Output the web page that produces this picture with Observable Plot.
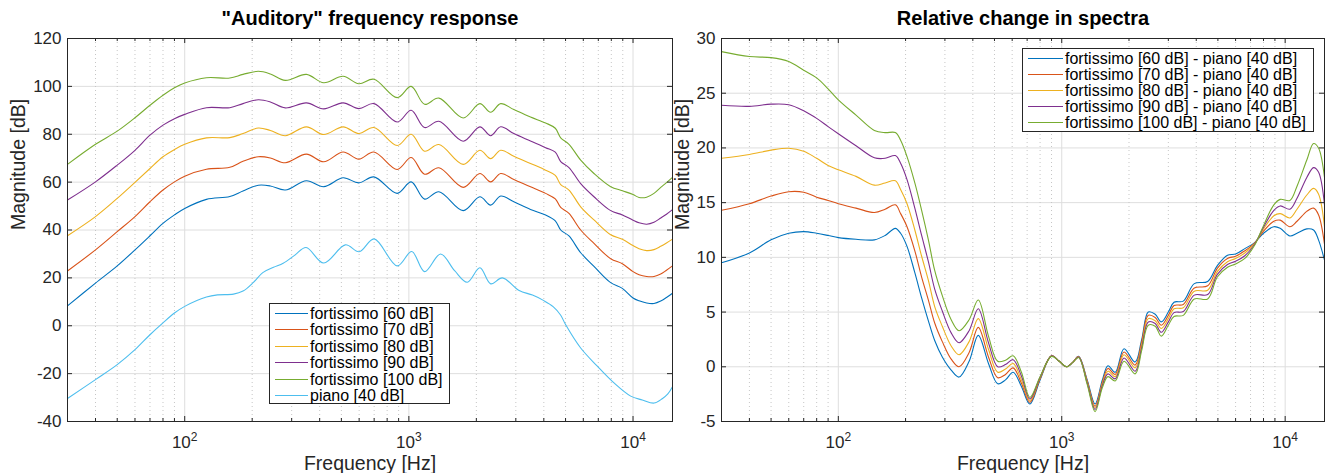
<!DOCTYPE html>
<html>
<head>
<meta charset="utf-8">
<script src="https://cdn.jsdelivr.net/npm/d3@7"></script>
<script src="https://cdn.jsdelivr.net/npm/@observablehq/plot@0.6"></script>
<style>
  body { margin: 0; background: #fff; font-family: "Liberation Sans", Arial, sans-serif; }
  #wrap { position: relative; width: 1328px; height: 473px; overflow: hidden; background: #fff; }
  .panel { position: absolute; top: 0; }
  .legend { position: absolute; background: #fff; border: 1px solid #262626; box-sizing: border-box; color: #000; }
  .legend .row { position: absolute; left: 0; height: 18px; width: 100%; }
  .legend .sw { position: absolute; top: 8px; height: 0; border-top: 1.3px solid; }
  .legend .tx { position: absolute; top: 0; line-height: 18px; white-space: nowrap; }
</style>
</head>
<body>
<div id="wrap"></div>
<script>
// ---------------- data ----------------
// Left panel: "Auditory" frequency response (dB) for fortissimo levels
const freqL = [30,40,50,60,70,80,90,100,125,159,182,213,241,281,349,417,509,598,698,887,1024,1175,1361,1748,2074,2316,2568,2939,3488,4075,4500,4757,5179,5841,6696,7948,8960,10000,10637,11500,12400,13290,14100,15000];
const ff60  = [8.3,17.8,25,31.7,37.6,42.8,46.3,49,52.8,54,56.3,58.7,58.4,56.7,60.6,58.1,61.8,59.7,62.2,55.3,60.1,52.9,56,48.1,53.9,50.4,54.2,51.8,48.6,46.25,43.8,40,37.5,30.5,24.8,18,15.6,11.6,10.4,9.5,9.3,10.3,11.8,13.6];
const ff70  = [22.9,31.7,39.3,45.6,51.8,56.7,60.1,62.5,65.4,66.2,68.7,70.6,70.1,68.1,71.7,68.5,72.6,69.6,72.6,65.3,70.3,63.3,66,57.8,63.6,60.1,63.6,61.1,58.1,55.3,53,49.4,46.9,40,34.4,28,25.9,22.6,21.3,20.6,20.6,21.6,23.2,25];
const ff80  = [37.6,45.6,53.2,59.9,65.7,70.6,73.6,75.8,78.5,78.6,80.3,82.6,81.6,79.4,83.1,79.9,83.1,80.3,82.8,75.3,80,72.9,75.7,67.4,73.3,69.8,73.3,70.8,67.8,65,62.8,59,56.7,49.7,44.2,38,36.1,33.5,32.2,31.4,31.8,33.2,34.6,36.2];
const ff90  = [52.5,60.1,67.1,73.3,79.6,83.8,86.5,88.3,91.1,91.1,92.8,94.4,93.5,91,93.1,90.6,93.1,90.7,92.8,85.1,90,82.8,85.4,77.1,83.1,79.4,83.1,80.3,77.2,74.4,72.5,68.6,66.1,59.4,53.9,48.1,46.3,44.1,43,42.4,43.2,45,46.6,48.5];
const ff100 = [67.4,75.8,81.3,86.9,92.1,96.3,99.4,101.4,103.6,103.5,105,106.3,105.2,102.5,105,101.5,104.2,101.1,103,95.3,100,92.5,95.1,86.8,92.8,89.2,92.8,90.3,87.2,84.7,82.5,78.5,75.8,69.2,63.6,58.1,56.4,54.8,53.6,53.7,55.3,57.8,59.8,62];
const freqP = [30,40,50,60,70,80,90,100,125,140,165,182,202,223,249,275,310,348,417,521,600,700,887,1030,1175,1385,1600,1822,2074,2318,2614,3105,3560,4000,4400,4750,5000,5841,6929,8226,9763,11000,12410,13500,14300,15000];
const piano = [-30.4,-22.5,-16.25,-10,-3.75,1.2,5.3,8.1,12,12.9,13.2,14.5,18,22.2,24.4,26.1,29.5,32.7,26.2,33.8,30.9,36.3,25,31,22.6,30,23,18.2,24.2,17.5,20,14.7,12.8,10.5,8,4.5,0.5,-9.3,-16.9,-23.9,-29.4,-31,-32.3,-30.5,-28.5,-25.5];

// Right panel: relative change in spectra (dB)
const freqR = [30,40,50,60,70,80,90,100,120,145,162,180,190,203,220,236,253,270,292,320,347,385,423,470,517,560,606,660,720,800,900,975,1050,1120,1190,1300,1410,1520,1610,1735,1900,2130,2280,2440,2620,2790,3000,3180,3500,3920,4500,4970,5520,6000,6600,7300,8000,8900,9500,10500,11300,12500,13400,14100,15000];
const d60  = [9.5,10.4,11.6,12.2,12.35,12.2,12.0,11.8,11.65,11.6,12.0,12.65,12.2,11.0,8.6,6.3,4.2,2.4,0.9,-0.3,-0.94,0.5,2.87,0.3,-1.55,-1.2,-0.5,-1.8,-3.4,-1.2,1.0,0.5,0.0,0.4,0.95,-1.2,-3.4,-1.2,0.1,-0.5,1.65,0.43,2.5,5.0,4.8,4.1,5.0,5.9,6.0,7.6,7.8,9.25,10.2,10.3,10.8,11.35,12.2,12.8,12.65,11.95,12.2,12.6,12.5,11.6,9.75];
const d70  = [14.3,14.9,15.6,16.0,15.95,15.5,15.2,14.9,14.5,14.1,14.4,14.8,14.0,12.8,10.6,8.2,6.1,4.0,2.3,0.7,0.0,1.3,3.6,0.9,-1.0,-0.7,-0.1,-1.5,-3.25,-1.1,1.0,0.5,0.0,0.4,0.93,-1.3,-3.6,-1.4,-0.15,-0.7,1.35,0.15,2.3,4.7,4.5,3.8,4.7,5.6,5.7,7.2,7.4,9.0,9.9,10.1,10.6,11.3,12.4,13.3,13.4,12.8,13.3,14.2,14.5,13.9,11.2];
const d80  = [19.05,19.4,19.8,19.97,19.7,19.05,18.4,18.0,17.4,16.6,16.8,17.0,16.2,14.9,12.5,10.1,7.9,5.5,3.7,1.9,1.1,2.3,4.4,1.6,-0.5,-0.2,0.3,-1.2,-3.1,-1.0,1.0,0.5,0.0,0.4,0.9,-1.4,-3.75,-1.55,-0.4,-0.9,1.1,-0.1,2.0,4.4,4.2,3.5,4.4,5.3,5.4,6.9,7.0,8.7,9.6,9.9,10.4,11.25,12.6,13.8,14.0,13.6,14.4,15.7,16.3,15.8,12.8];
const d90  = [23.9,23.8,24.0,23.95,23.4,22.7,21.95,21.3,20.2,19.1,19.05,19.3,18.6,17.1,14.5,12.0,9.6,7.1,5.1,3.1,2.2,3.3,5.3,2.2,0.0,0.2,0.65,-0.85,-2.95,-0.95,1.0,0.5,0.0,0.4,0.88,-1.5,-3.9,-1.7,-0.65,-1.1,0.8,-0.4,1.75,4.1,3.95,3.15,4.1,4.95,5.05,6.55,6.6,8.45,9.35,9.65,10.15,11.2,12.75,14.3,14.7,14.4,15.4,17.3,18.2,17.8,14.8];
const d100 = [28.8,28.35,28.25,27.9,27.1,26.4,25.4,24.4,23.0,21.6,21.4,21.4,20.7,19.2,16.8,14.3,11.6,8.8,6.5,4.3,3.3,4.3,6.1,2.8,0.5,0.6,1.0,-0.5,-2.8,-0.9,0.95,0.5,0.0,0.4,0.85,-1.6,-4.1,-1.9,-0.9,-1.3,0.5,-0.65,1.5,3.8,3.7,2.8,3.8,4.6,4.7,6.2,6.2,8.2,9.1,9.4,9.9,11.1,12.9,14.8,15.3,15.2,16.5,18.9,20.4,20.0,17.3];

const namesL = ["fortissimo [60 dB]","fortissimo [70 dB]","fortissimo [80 dB]","fortissimo [90 dB]","fortissimo [100 dB]","piano [40 dB]"];
const namesR = ["fortissimo [60 dB] - piano [40 dB]","fortissimo [70 dB] - piano [40 dB]","fortissimo [80 dB] - piano [40 dB]","fortissimo [90 dB] - piano [40 dB]","fortissimo [100 dB] - piano [40 dB]"];
const colors = ["#0072BD","#D95319","#EDB120","#7E2F8E","#77AC30","#4DBEEE"];

const xMajor = [100, 1000, 10000];
const xMajorExp = ["2", "3", "4"];
const xMinor = [40,50,60,70,80,90,200,300,400,500,600,700,800,900,2000,3000,4000,5000,6000,7000,8000,9000];
const yTicksL = [-40,-20,0,20,40,60,80,100,120];
const yTicksR = [-5,0,5,10,15,20,25,30];

// ---------------- drawing ----------------
const FONT = "'Liberation Sans', Arial, Helvetica, sans-serif";
const AX = "#262626";
const H = 473, MT = 38, MB = 52;

function toRows(freqs, vals) { return freqs.map((f, i) => ({f, v: vals[i]})); }

function panel({width, marginLeft, marginRight, yDomain, yTicks, series, title, ylabDx}) {
  const fh = H - MT - MB;
  const fw = width - marginLeft - marginRight;
  const lines = series.map(s => Plot.line(toRows(s.f, s.v), {x: "f", y: "v", stroke: s.color, strokeWidth: 1.1, curve: "catmull-rom"}));
  return Plot.plot({
    width, height: H, marginLeft, marginRight, marginTop: MT, marginBottom: MB,
    style: {fontFamily: FONT, fontSize: "17px", color: AX, background: "none", overflow: "visible"},
    x: {type: "log", domain: [30, 15000], axis: null},
    y: {domain: yDomain, axis: null},
    marks: [
      Plot.ruleY(yTicks, {stroke: "#dedede", strokeWidth: 1}),
      Plot.ruleX(xMinor, {stroke: "#c6c6c6", strokeWidth: 1, strokeDasharray: "1,3"}),
      Plot.ruleX(xMajor, {stroke: "#dedede", strokeWidth: 1}),
      ...lines,
      Plot.frame({stroke: AX, strokeWidth: 1}),
      Plot.ruleX(xMajor, {insetTop: fh - 5, stroke: AX}),
      Plot.ruleX(xMajor, {insetBottom: fh - 5, stroke: AX}),
      Plot.ruleX(xMinor, {insetTop: fh - 3, stroke: AX}),
      Plot.ruleX(xMinor, {insetBottom: fh - 3, stroke: AX}),
      Plot.ruleY(yTicks, {insetRight: fw - 5, stroke: AX}),
      Plot.ruleY(yTicks, {insetLeft: fw - 5, stroke: AX}),
      Plot.text(yTicks, {y: d => d, frameAnchor: "left", dx: -6, textAnchor: "end", lineAnchor: "middle", text: d => String(d), fill: AX}),
      Plot.text(xMajor, {x: d => d, frameAnchor: "bottom", dy: 21, lineAnchor: "middle", text: (d, i) => "10^" + xMajorExp[i], fill: AX}),
      Plot.text([title], {frameAnchor: "top", dy: -20, lineAnchor: "middle", fontWeight: "bold", fontSize: 20, fill: "#000"}),
      Plot.text(["Frequency [Hz]"], {frameAnchor: "bottom", dy: 42.5, lineAnchor: "middle", fontSize: 19.5, fill: AX}),
      Plot.text(["Magnitude [dB]"], {frameAnchor: "left", dx: ylabDx, lineAnchor: "middle", rotate: -90, fontSize: 19.5, fill: AX})
    ]
  });
}

function superscripts(svg) {
  d3.select(svg).selectAll("text").each(function() {
    const s = this.textContent;
    if (!s.startsWith("10^")) return;
    const e = s.slice(3);
    const t = d3.select(this);
    t.text(null);
    t.append("tspan").text("10");
    t.append("tspan").attr("dy", "-0.55em").attr("font-size", "12px").text(e);
  });
}

const wrap = document.getElementById("wrap");

const left = panel({
  width: 676, marginLeft: 67, marginRight: 4, yDomain: [-40, 120], yTicks: yTicksL, ylabDx: -49,
  title: "\"Auditory\" frequency response",
  series: [
    {f: freqL, v: ff60, color: colors[0]},
    {f: freqL, v: ff70, color: colors[1]},
    {f: freqL, v: ff80, color: colors[2]},
    {f: freqL, v: ff90, color: colors[3]},
    {f: freqL, v: ff100, color: colors[4]},
    {f: freqP, v: piano, color: colors[5]}
  ]
});
superscripts(left);
const dl = document.createElement("div"); dl.className = "panel"; dl.style.left = "0px"; dl.appendChild(left); wrap.appendChild(dl);

const right = panel({
  width: 660, marginLeft: 53, marginRight: 4, yDomain: [-5, 30], yTicks: yTicksR, ylabDx: -39,
  title: "Relative change in spectra",
  series: [
    {f: freqR, v: d60, color: colors[0]},
    {f: freqR, v: d70, color: colors[1]},
    {f: freqR, v: d80, color: colors[2]},
    {f: freqR, v: d90, color: colors[3]},
    {f: freqR, v: d100, color: colors[4]}
  ]
});
superscripts(right);
const dr = document.createElement("div"); dr.className = "panel"; dr.style.left = "668px"; dr.appendChild(right); wrap.appendChild(dr);

function legend({left, top, width, height, names, first, step, swLeft, swWidth, txLeft, fontSize}) {
  const box = document.createElement("div");
  box.className = "legend";
  Object.assign(box.style, {left: left + "px", top: top + "px", width: width + "px", height: height + "px", fontSize: fontSize + "px"});
  names.forEach((n, i) => {
    const row = document.createElement("div");
    row.className = "row";
    row.style.top = (first + step * i - 9) + "px";
    const sw = document.createElement("div");
    sw.className = "sw";
    Object.assign(sw.style, {left: swLeft + "px", width: swWidth + "px", borderTopColor: colors[i]});
    const tx = document.createElement("div");
    tx.className = "tx";
    tx.style.left = txLeft + "px";
    tx.textContent = n;
    row.appendChild(sw); row.appendChild(tx);
    box.appendChild(row);
  });
  wrap.appendChild(box);
}

legend({left: 269, top: 303, width: 181, height: 101, names: namesL, first: 9.7, step: 16.5, swLeft: 5, swWidth: 33, txLeft: 40, fontSize: 16});
legend({left: 1022, top: 48, width: 292, height: 84, names: namesR, first: 10.3, step: 15.85, swLeft: 5, swWidth: 35, txLeft: 42, fontSize: 16});
</script>
</body>
</html>
